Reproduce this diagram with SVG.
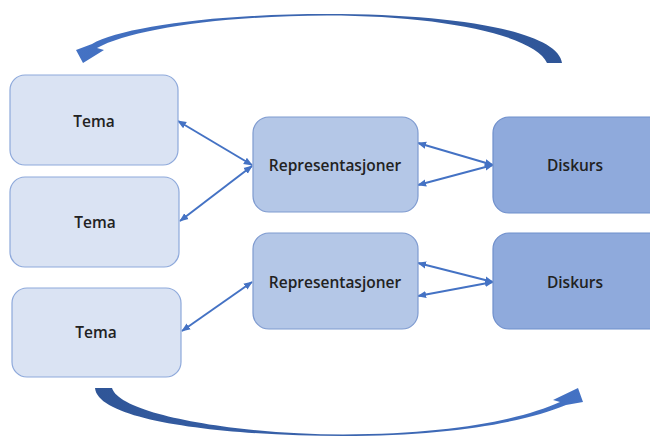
<svg xmlns="http://www.w3.org/2000/svg" width="650" height="437" viewBox="0 0 650 437">
<style>
.tema{fill:#dae3f3;stroke:#8ea9db;stroke-width:1.2}
.rep{fill:#b4c7e7;stroke:#7f9bd0;stroke-width:1.2}
.disk{fill:#8faadc;stroke:#6f8fcc;stroke-width:1.2}
.lbl{font-family:"Open Sans","Liberation Sans",sans-serif;font-size:15.5px;font-weight:600;fill:#222;text-anchor:middle;dominant-baseline:central}
.conn{stroke:#4472c4;stroke-width:2;fill:none;marker-start:url(#ah);marker-end:url(#ah)}
</style>
<defs>
<marker id="ah" viewBox="0 0 10 10" refX="9" refY="5" markerWidth="4.5" markerHeight="4.5" orient="auto-start-reverse" markerUnits="strokeWidth">
<path d="M0,1 L10,5 L0,9 Z" fill="#4472c4"/>
</marker>
<linearGradient id="gt" x1="1" y1="0" x2="0" y2="0">
<stop offset="0" stop-color="#2f5597"/><stop offset="0.5" stop-color="#3a64ae"/><stop offset="1" stop-color="#4472c4"/>
</linearGradient>
<linearGradient id="gb" x1="0" y1="0" x2="1" y2="0">
<stop offset="0" stop-color="#2f5597"/><stop offset="0.5" stop-color="#3a64ae"/><stop offset="1" stop-color="#4472c4"/>
</linearGradient>
</defs>
<g id="cycle-top"><path d="M 562,63 C 558,32 460,14 327,14 C 210,14 120,28 92,44 L 76,50 L 83,63 L 104,50 L 97,48 C 130,30 215,16 327,15.5 C 440,15.5 535,35 547,63 Z" fill="url(#gt)"/></g>
<g id="cycle-bottom"><path d="M 95,388 C 98,422 230,436 343,436 C 450,436 525,422 566,405 L 583,402 L 578,388 L 553,400 L 560,402 C 520,420 450,434 343,434.5 C 240,434.5 120,415 112,388 Z" fill="url(#gb)"/></g>
<g id="connectors">
<line class="conn" x1="252" y1="165" x2="178" y2="121"/>
<line class="conn" x1="252" y1="166" x2="180" y2="221"/>
<line class="conn" x1="493" y1="165" x2="418" y2="143"/>
<line class="conn" x1="493" y1="165" x2="418" y2="185"/>
<line class="conn" x1="252" y1="282" x2="182" y2="331"/>
<line class="conn" x1="493" y1="282" x2="418" y2="263"/>
<line class="conn" x1="493" y1="282" x2="418" y2="296"/>
</g>
<g id="tema1"><rect class="tema" x="10" y="75" width="168" height="90" rx="15"/><text class="lbl" x="94" y="121">Tema</text></g>
<g id="tema2"><rect class="tema" x="10" y="177" width="169" height="90" rx="15"/><text class="lbl" x="95" y="222">Tema</text></g>
<g id="tema3"><rect class="tema" x="12" y="288" width="169" height="89" rx="15"/><text class="lbl" x="96" y="332">Tema</text></g>
<g id="rep1"><rect class="rep" x="253" y="117" width="165" height="95" rx="16"/><text class="lbl" x="335" y="165">Representasjoner</text></g>
<g id="rep2"><rect class="rep" x="253" y="233" width="165" height="96" rx="16"/><text class="lbl" x="335" y="282">Representasjoner</text></g>
<g id="disk1"><rect class="disk" x="493" y="117" width="175" height="96" rx="16"/><text class="lbl" x="575" y="165">Diskurs</text></g>
<g id="disk2"><rect class="disk" x="493" y="233" width="175" height="96" rx="16"/><text class="lbl" x="575" y="282">Diskurs</text></g>
</svg>
